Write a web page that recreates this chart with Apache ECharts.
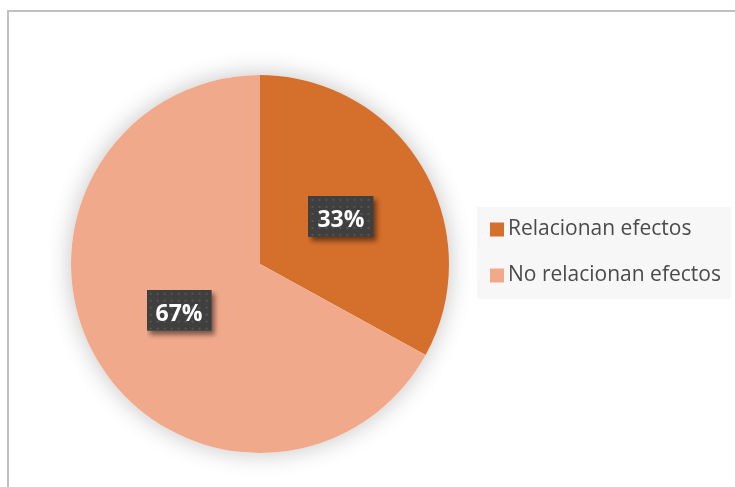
<!DOCTYPE html>
<html>
<head>
<meta charset="utf-8">
<script src="https://cdn.jsdelivr.net/npm/echarts@6/dist/echarts.min.js"></script>
<style>
  html, body { margin: 0; padding: 0; background: #ffffff; }
  #chart { position: absolute; left: 0; top: 0; width: 735px; height: 487px; }
  #frame {
    position: absolute; left: 7px; top: 10px; width: 728px; height: 477px;
    border-top: 2px solid #c0c0c0; border-left: 2px solid #c0c0c0;
    box-sizing: border-box; pointer-events: none;
  }
</style>
</head>
<body>
<div id="chart"></div>
<div id="frame"></div>
<script>
// Share of responses
const categories = ['Relacionan efectos', 'No relacionan efectos'];
const shares = [33, 67];
const sliceColors = ['#d46f2c', '#f1a98b'];

// Label box: dark dotted plate with a drop shadow on its lower-right side
const plateW = 65, plateH = 41, shadowPad = 9;
function dottedPlate() {
  const c = document.createElement('canvas');
  c.width = plateW + shadowPad;
  c.height = plateH + shadowPad;
  const g = c.getContext('2d');
  g.save();
  g.shadowColor = 'rgba(0,0,0,0.5)';
  g.shadowBlur = 5;
  g.shadowOffsetX = 3;
  g.shadowOffsetY = 4;
  g.fillStyle = '#3f3f3f';
  g.fillRect(0, 0, plateW, plateH);
  g.restore();
  g.fillStyle = '#555555';
  for (let y = 3; y < plateH; y += 7) {
    for (let x = 3; x < plateW; x += 7) {
      g.fillRect(x, y, 2, 2);
    }
  }
  return c;
}
const plate = dottedPlate();

// small nudges of each percentage label inside its slice
const labelNudges = [[1.5, 6.5], [7.5, 1]];

const chart = echarts.init(document.getElementById('chart'), null, { renderer: 'canvas' });

chart.setOption({
  animation: false,
  legend: {
    orient: 'vertical',
    left: 477,
    top: 207,
    data: categories,
    icon: 'rect',
    itemWidth: 14,
    itemHeight: 14,
    itemGap: 25,
    padding: [12, 10, 13, 13],
    backgroundColor: '#f7f7f7',
    selectedMode: false,
    textStyle: {
      fontFamily: 'Open Sans',
      fontSize: 21,
      lineHeight: 20,
      color: '#4a4a4a',
      padding: [0, 0, 0, -1]
    }
  },
  series: [
    {
      // soft halo behind the pie
      type: 'pie',
      silent: true,
      center: [260, 264],
      radius: 189,
      z: 1,
      label: { show: false },
      labelLine: { show: false },
      data: [{ value: 1, name: '' }],
      itemStyle: {
        color: '#ffffff',
        shadowBlur: 24,
        shadowColor: 'rgba(0,0,0,0.24)'
      }
    },
    {
      type: 'pie',
      center: [260, 264],
      radius: 189,
      startAngle: 90,
      clockwise: true,
      z: 2,
      data: categories.map((name, i) => ({
        name,
        value: shares[i],
        itemStyle: { color: sliceColors[i] },
        label: { offset: labelNudges[i] }
      })),
      itemStyle: { borderWidth: 0 },
      label: {
        show: true,
        position: 'inside',
        formatter: '{d}%',
        color: '#ffffff',
        fontFamily: 'Open Sans',
        fontWeight: 'bold',
        fontSize: 23,
        width: plateW,
        height: plateH,
        lineHeight: plateH,
        align: 'center',
        verticalAlign: 'middle',
        padding: [0, shadowPad, shadowPad, 0],
        backgroundColor: { image: plate }
      },
      labelLine: { show: false },
      emphasis: { disabled: true }
    }
  ]
});
</script>
</body>
</html>
